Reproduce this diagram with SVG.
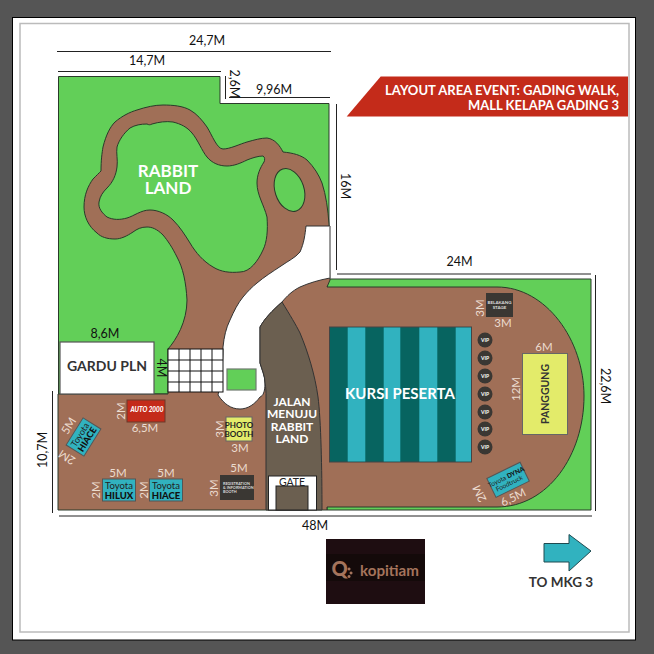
<svg xmlns="http://www.w3.org/2000/svg" width="654" height="654" viewBox="0 0 654 654">
<style>
text{font-family:"Lato","Liberation Sans",sans-serif;text-anchor:middle}
.d{font-size:12.5px;fill:#111}
.l{font-size:11.5px;fill:#ecdcd0}
.dl{stroke:#222;stroke-width:1;fill:none}
.e{stroke:#2a3a2a;stroke-width:1}
.s{text-anchor:start}
</style>
<rect width="654" height="654" fill="#555"/>
<rect x="12.500" y="17.500" width="623" height="622.500" fill="#fff" stroke="#000"/>
<rect x="20" y="23.500" width="609" height="608.500" fill="#fff" stroke="#bbb" stroke-width="1.500"/>
<g id="ground">
<path class="e" fill="#62cf58" d="M58.500 76.500H220V103.500H329V300H200V394H58.500Z"/>
<path class="e" fill="#62cf58" d="M327 279H591V510H327Z"/>
<path class="e" fill="#a06f57" fill-rule="evenodd" d="M168 349C176 340 187 322 187 300C186 282 183 268 177 257C172 247 168 241 163 235C157 229 152 227 147 227C141 227 137 229 133 232C127 236 121 239 115 239C107 239 101 237 97 233C88 226 84 216 84 207C84 195 88 186 93 179C96 176 99 173 101 171C101 160 102 153 103 147C106 135 110 127 115 122C122 116 130 112 137 110C146 107 155 105 163 105C173 105 183 106 190 110C197 114 202 120 207 127C212 135 217 149 223 149C230 149 240 144 247 142C254 140 261 138 267 138C275 139 280 146 283 152C293 153 301 155 307 160C314 167 319 175 322 183C326 195 328 210 329 224L330 280L327 287H497C546 287 584 340 584 396C584 455 548 507 497 507H327V510H58V394H168ZM152 124C159 122 166 121 173 122C181 124 187 127 192 133C198 140 202 151 207 157C212 163 219 166 227 166C234 166 241 163 247 160C252 158 258 156 263 156C265 157 265 160 264 162C260 168 257 175 257 183C257 195 264 205 267 217C268 230 267 242 263 250C258 261 250 272 240 272C230 273 221 272 213 267C203 261 196 253 190 243C185 235 180 227 173 220C167 214 158 210 150 210C141 210 134 216 127 218C120 220 113 220 107 217C102 213 98 208 99 202C100 196 103 192 107 188C113 182 116 175 117 167C118 160 116 153 117 147C119 140 124 133 130 128C135 125 141 124 147 124C149 125 150 125 152 124Z"/>
<ellipse class="e" cx="289.500" cy="190" rx="14.500" ry="22" transform="rotate(-18 289.500 190)" fill="#62cf58"/>
<path fill="#fff" stroke="#333" d="M306 226H330V278C319 280 309 283 300 287C292 291 287 296 282 302C272 311 265 318 260 327V363C262 370 265 376 265 383C265 392 263 396 260 397C255 404 248 409 240 409C231 409 224 404 218 395C220 385 223 370 223 347C224 337 226 328 230 320C234 311 238 303 243 297C248 291 252 287 257 283C264 277 272 272 281 266C288 261 295 258 300 252C304 243 305 235 306 226Z"/>
<path fill="none" stroke="#999" d="M330 226V278"/>
<path fill="#6b5f50" stroke="#333" d="M282 302C290 315 296 325 300 333C308 352 315 375 318 397C321 420 322 470 322 510H266V397C266 392 266 388 265 383C265 376 262 370 260 363V327C265 318 272 311 282 302Z"/>
<rect x="227" y="369" width="29" height="21" fill="#62cf58" stroke="#6e7a6e" stroke-width="1.200"/>
</g>
<g id="grid" stroke="#111">
<rect x="168" y="349" width="55" height="43" fill="#fff"/>
<path fill="none" d="M179 349V392M190 349V392M201 349V392M212 349V392M168 360H223M168 371H223M168 382H223"/>
</g>
<g id="gate">
<rect x="268.500" y="476" width="48" height="34" fill="#fff" stroke="#222"/>
<rect x="276" y="486" width="32" height="24" fill="#6b5f50" stroke="#222"/>
<text x="292" y="485.500" font-size="10.500" fill="#222">GATE</text>
</g>
<g id="gardu">
<rect x="60" y="342" width="94" height="52" fill="#fff" stroke="#555" stroke-width="1.200"/>
<text x="107" y="371" font-size="14" font-weight="700" fill="#333">GARDU PLN</text>
</g>
<g id="seats">
<rect x="329.500" y="327" width="142" height="135" fill="#076460" stroke="#444"/>
<path fill="#31b2bf" d="M347.700 327.500H365.300V461.500H347.700ZM383.700 327.500H400.300V461.500H383.700ZM419.300 327.500H437.300V461.500H419.300ZM455.700 327.500H471V461.500H455.700Z"/>
<text x="400" y="399" font-size="15" font-weight="700" fill="#fff">KURSI PESERTA</text>
</g>
<g id="vip" fill="#3a3733">
<circle cx="485" cy="340" r="7.500"/><circle cx="485" cy="358" r="7.500"/><circle cx="485" cy="376" r="7.500"/><circle cx="485" cy="394" r="7.500"/><circle cx="485" cy="412" r="7.500"/><circle cx="485" cy="429" r="7.500"/><circle cx="485" cy="447" r="7.500"/>
<g font-size="5" font-weight="700">
<text x="485" y="341.800" fill="#fff">VIP</text><text x="485" y="359.800" fill="#fff">VIP</text><text x="485" y="377.800" fill="#fff">VIP</text><text x="485" y="395.800" fill="#fff">VIP</text><text x="485" y="413.800" fill="#fff">VIP</text><text x="485" y="430.800" fill="#fff">VIP</text><text x="485" y="448.800" fill="#fff">VIP</text>
</g>
</g>
<g id="panggung">
<rect x="522.500" y="353.500" width="45" height="81" fill="#e3eb6a" stroke="#666"/>
<text transform="translate(549 394) rotate(-90)" font-size="10.500" fill="#333" font-weight="700">PANGGUNG</text>
<text x="544" y="351" class="l">6M</text>
<text transform="translate(519.500 389) rotate(-90)" class="l">12M</text>
</g>
<g id="belakang">
<rect x="486" y="293" width="27" height="24" fill="#3a3733"/>
<text x="499.500" y="303.500" font-size="4.500" font-weight="700" fill="#ddd">BELAKANG</text>
<text x="499.500" y="308.500" font-size="4.500" font-weight="700" fill="#ddd">STAGE</text>
<text transform="translate(483.500 308) rotate(-90)" class="l">3M</text>
<text x="503" y="327" class="l">3M</text>
</g>
<g id="auto2000">
<rect x="127" y="400" width="38" height="22" fill="#c42b1a" stroke="#6b3a2a"/>
<text x="147" y="412" font-size="7.500" font-weight="900" font-style="italic" fill="#fff" textLength="33" lengthAdjust="spacingAndGlyphs">AUTO 2000</text>
<text transform="translate(124.500 411) rotate(-90)" class="l">2M</text>
<text x="145" y="432" class="l">6,5M</text>
</g>
<g id="hiace1">
<g transform="translate(83.500 437) rotate(-58)">
<rect x="-16" y="-10.500" width="32" height="21" fill="#31b2bf" stroke="#555"/>
<text y="-1" font-size="9" fill="#222">Toyota</text>
<text y="7.500" font-size="9" font-weight="900" fill="#111">HIACE</text>
</g>
<text transform="translate(72 428) rotate(-58)" class="l">5M</text>
<text transform="translate(69 454) rotate(-148)" class="l">2M</text>
</g>
<g id="hilux">
<rect x="102.500" y="479" width="33" height="22" fill="#31b2bf" stroke="#555"/>
<text x="119" y="489" font-size="9.500" fill="#222">Toyota</text>
<text x="119" y="498.500" font-size="9.500" font-weight="900" fill="#111">HILUX</text>
<text x="118" y="477" class="l">5M</text>
<text transform="translate(100 490) rotate(-90)" class="l">2M</text>
</g>
<g id="hiace2">
<rect x="149.500" y="479" width="33" height="22" fill="#31b2bf" stroke="#555"/>
<text x="166" y="489" font-size="9.500" fill="#222">Toyota</text>
<text x="166" y="498.500" font-size="9.500" font-weight="900" fill="#111">HIACE</text>
<text x="166" y="477" class="l">5M</text>
<text transform="translate(147.500 490) rotate(-90)" class="l">2M</text>
</g>
<g id="photobooth">
<rect x="226" y="417" width="26" height="24" fill="#e3eb6a" stroke="#666"/>
<text x="239" y="427.500" font-size="8" font-weight="700" fill="#222">PHOTO</text>
<text x="239" y="436.500" font-size="8" font-weight="700" fill="#222">BOOTH</text>
<text transform="translate(224 429) rotate(-90)" class="l">3M</text>
<text x="240" y="452" class="l">3M</text>
</g>
<g id="registration">
<rect x="220" y="475" width="34" height="25" fill="#3a3733"/>
<g font-size="3.800" font-weight="700" fill="#ddd">
<text x="223" y="484.500" class="s">REGISTRATION</text>
<text x="223" y="488.500" class="s">&amp; INFORMATION</text>
<text x="223" y="492.500" class="s">BOOTH</text>
</g>
<text x="239" y="472" class="l">5M</text>
<text transform="translate(218 488) rotate(-90)" class="l">3M</text>
</g>
<g id="dyna">
<g transform="translate(507.600 480) rotate(-26)">
<rect x="-18" y="-10.500" width="37" height="21" fill="#31b2bf" stroke="#555"/>
<text y="-1" font-size="6.500" fill="#222">Toyota <tspan font-weight="900" fill="#111">DYNA</tspan></text>
<text y="6" font-size="6.500" fill="#222">Foodtruck</text>
</g>
<text transform="translate(483 492) rotate(-116)" class="l">2M</text>
<text transform="translate(515 501) rotate(-26)" class="l">6,5M</text>
</g>
<g id="labels">
<text x="168" y="176.500" font-size="17" font-weight="700" fill="#fff">RABBIT</text>
<text x="168" y="194" font-size="17" font-weight="700" fill="#fff">LAND</text>
<g font-size="12" font-weight="700" fill="#fff">
<text x="292" y="405.500">JALAN</text><text x="292" y="418">MENUJU</text><text x="292" y="430.500">RABBIT</text><text x="292" y="443">LAND</text>
</g>
<text x="105" y="338" class="d">8,6M</text>
<text transform="translate(156.500 368) rotate(90)" class="d">4M</text>
</g>
<g id="connectors">
<path class="dl" d="M57 51.500H331M58 71.500H221M225.500 76V99M229 97.500H330M336.500 104V270M337 274H591M595.500 275V511M59 516H592M52.500 391V513"/>
<text x="207" y="45" class="d">24,7M</text>
<text x="147" y="65" class="d">14,7M</text>
<text transform="translate(230 84) rotate(90)" class="d">2,6M</text>
<text x="274" y="94" class="d">9,96M</text>
<text transform="translate(341 186) rotate(90)" class="d">16M</text>
<text x="459.500" y="266" class="d">24M</text>
<text transform="translate(601 386) rotate(90)" class="d">22,6M</text>
<text x="315" y="530" class="d">48M</text>
<text transform="translate(47 450) rotate(-90)" class="d">10,7M</text>
</g>
<g id="title">
<path fill="#c42b1a" d="M380.700 76.500H628V116.500H346.700Z"/>
<text x="619" y="95" font-size="14" font-weight="700" fill="#fff" style="text-anchor:end" textLength="234" lengthAdjust="spacingAndGlyphs">LAYOUT AREA EVENT: GADING WALK,</text>
<text x="619" y="110" font-size="14" font-weight="700" fill="#fff" style="text-anchor:end" textLength="151" lengthAdjust="spacingAndGlyphs">MALL KELAPA GADING 3</text>
</g>
<g id="kopitiam">
<rect x="326" y="539" width="99" height="65" fill="#1e0d11"/>
<rect x="326" y="554" width="99" height="27" fill="#140a0a"/>
<text x="339.500" y="576" font-size="20" font-weight="900" fill="#a5745c">Q</text>
<path fill="#a5745c" d="M349 567.500a1.500 1.500 0 1 0 .1 0ZM351 571.500a1.500 1.500 0 1 0 .1 0ZM349 575a1.500 1.500 0 1 0 .1 0Z"/>
<text x="389.500" y="576" font-size="15" font-weight="700" fill="#a5745c" textLength="59" lengthAdjust="spacingAndGlyphs">kopitiam</text>
</g>
<g id="arrow">
<path fill="#31b2bf" stroke="#1f4a50" d="M544 543.500H569V534.500L591 551L569 571V562H544Z"/>
<text x="561" y="587" font-size="13.500" font-weight="700" fill="#333">TO MKG 3</text>
</g>
</svg>
